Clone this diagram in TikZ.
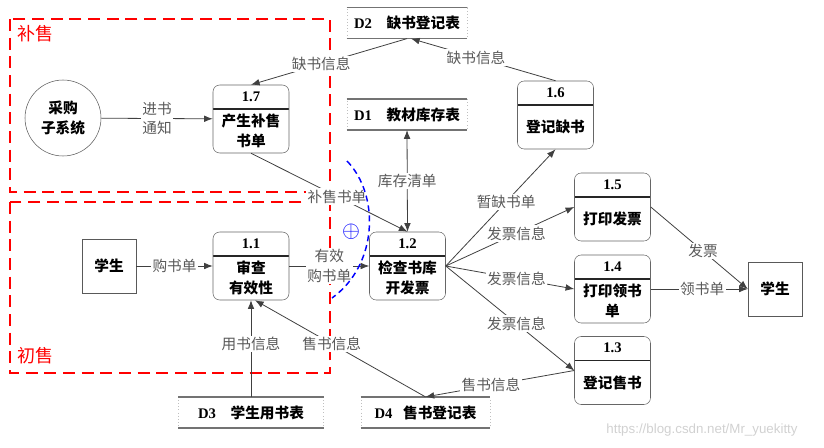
\documentclass[tikz,border=0pt]{standalone}
\usepackage{fontspec}
\setmainfont{Liberation Serif}
\newfontfamily\cjk{Noto Sans CJK SC}
\newfontfamily\urlfont{Liberation Sans}
\usetikzlibrary{arrows.meta}

\tikzset{
    proc/.style={draw=black!60, rounded corners=5pt, minimum width=57pt, minimum height=51pt, inner sep=0pt,
        path picture={\draw[black!85, line width=1pt] ([yshift=-18pt]path picture bounding box.north west) -- ([yshift=-18pt]path picture bounding box.north east);}},
    num/.style={anchor=center, yshift=-9pt, inner sep=0pt, font=\bfseries\fontsize{11}{13}\selectfont},
    ptext/.style={anchor=center, yshift=-9pt, inner sep=0pt, align=center, font=\cjk\bfseries\fontsize{11}{14.5}\selectfont},
    store/.style={draw=black!25, dotted, minimum height=23pt, inner sep=0pt, font=\fontsize{11}{13}\selectfont},
    storeline/.style={black!55, line width=1pt},
    ent/.style={draw=black!65, minimum size=40.5pt, inner sep=0pt, font=\cjk\bfseries\fontsize{11}{13}\selectfont},
    ext/.style={circle, draw=black!65, minimum size=57pt, inner sep=0pt, align=center, font=\cjk\bfseries\fontsize{11}{14.5}\selectfont},
    flow/.style={black!75, line width=0.6pt},
    lab/.style={fill=white, inner sep=1pt, pos=0.55, text=black!65, align=center, font=\cjk\fontsize{11}{14.5}\selectfont},
    region/.style={red, line width=1.5pt, dash pattern=on 9pt off 5pt},
    regtext/.style={text=red, inner sep=0pt, font=\cjk\fontsize{13.5}{15}\selectfont},
}

\begin{document}
\begin{tikzpicture}[x=0.75pt,y=-0.75pt,>={Latex[length=6.5pt,width=5pt]}]
    \useasboundingbox (0,0) rectangle (824,447);

    % sale regions
    \draw[region] (10,19) rectangle (330,192);
    \node[regtext] (tbu) at (35,34) {补售};
    \draw[region] (10,202) rectangle (330,373);
    \node[regtext] (tchu) at (35,356) {初售};

    % processes
    \node[proc, label={[num]north:1.7}, label={[ptext]center:产生补售\\书单}] (p17) at (251,119) {};
    \node[proc, label={[num]north:1.1}, label={[ptext]center:审查\\有效性}] (p11) at (251,266) {};
    \node[proc, label={[num]north:1.2}, label={[ptext]center:检查书库\\开发票}] (p12) at (407.5,266) {};
    \node[proc, label={[num]north:1.6}, label={[ptext]center:登记缺书}] (p16) at (555.5,115) {};
    \node[proc, label={[num]north:1.5}, label={[ptext]center:打印发票}] (p15) at (612.5,207) {};
    \node[proc, label={[num]north:1.4}, label={[ptext]center:打印领书\\单}] (p14) at (612.5,289) {};
    \node[proc, label={[num]north:1.3}, label={[ptext]center:登记售书}] (p13) at (612.5,370.5) {};

    % data stores
    \node[store, minimum width=90pt] (d2) at (407,23) {\textbf{D2}\quad{\cjk\bfseries 缺书登记表}};
    \node[store, minimum width=90pt] (d1) at (407,114.5) {\textbf{D1}\quad{\cjk\bfseries 教材库存表}};
    \node[store, minimum width=108.75pt] (d3) at (251,412.5) {\textbf{D3}\quad{\cjk\bfseries 学生用书表}};
    \node[store, minimum width=96.75pt] (d4) at (425.5,412.5) {\textbf{D4}\hspace{8pt}{\cjk\bfseries 售书登记表}};
    \foreach \s in {d1,d2,d3,d4}
        \draw[storeline] (\s.north west) -- (\s.north east) (\s.south west) -- (\s.south east);

    % outside entities
    \node[ext] (buy) at (63,118) {采购\\子系统};
    \node[ent] (stu) at (109,266) {学生};
    \node[ent] (stu2) at (775,289) {学生};

    % data flows
    \draw[flow,->] (buy) -- (p17) node[lab,pos=0.5] {进书\\通知};
    \draw[flow,->] (d2.south) -- (p17.north) node[lab] {缺书信息};
    \draw[flow,->] (p16.north) -- ([xshift=3pt]d2.south) node[lab] {缺书信息};
    \draw[flow,->] (p17.south) -- (p12.north) node[lab] {补售书单};
    \draw[flow,<->] (d1.south) -- (p12.north) node[lab,pos=0.5] {库存清单};
    \draw[flow,->] (stu) -- (p11) node[lab,pos=0.5] {购书单};
    \draw[flow,->] (p11) -- (p12) node[lab,pos=0.5] {有效\\购书单};
    \draw[flow,->] (d3.north) -- (p11.south) node[lab] {用书信息};
    \draw[flow,->] (d4.north) -- ([xshift=3pt]p11.south) node[lab] {售书信息};
    \draw[flow,->] (p13.west) -- (d4.north) node[lab,pos=0.56] {售书信息};
    \draw[flow,->] (p12.east) -- (p16.south) node[lab] {暂缺书单};
    \draw[flow,->] (p12.east) -- (p15.west) node[lab] {发票信息};
    \draw[flow,->] (p12.east) -- (p14.west) node[lab] {发票信息};
    \draw[flow,->] (p12.east) -- (p13.west) node[lab] {发票信息};
    \draw[flow,->] (p15.east) -- (stu2.west) node[lab,pos=0.54] {发票};
    \draw[flow,->] (p14.east) -- (stu2.west) node[lab,pos=0.53] {领书单};

    % merge mark
    \draw[blue, line width=1.1pt, dash pattern=on 4.5pt off 3pt] (347,161) .. controls (380,195) and (378,265) .. (332,298);
    \node[text=blue, inner sep=0pt, font=\fontsize{16}{16}\selectfont] (plus) at (351,232) {$\oplus$};

    \node[text=black!18, font=\urlfont\fontsize{10}{12}\selectfont] (wm) at (702,430) {https://blog.csdn.net/Mr\_yuekitty};
\end{tikzpicture}
\end{document}
